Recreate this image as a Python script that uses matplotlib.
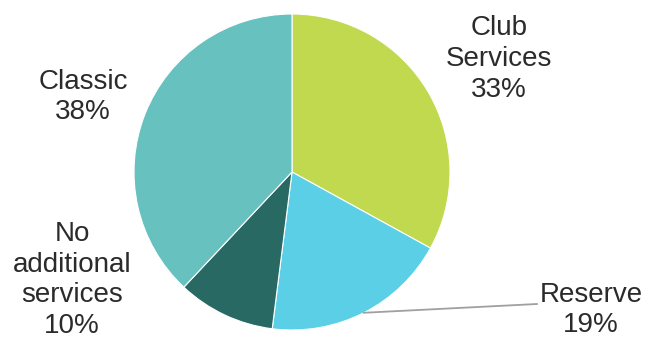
import numpy as np
import matplotlib.pyplot as plt

plt.rcParams['font.family'] = ['Liberation Sans', 'DejaVu Sans']

labels = ['Club\nServices', 'Reserve', 'No\nadditional\nservices', 'Classic']
shares = [33, 19, 10, 38]
colors = ['#c1d94f', '#5bcfe6', '#296964', '#66c1bf']

W, H = 649, 340
fig = plt.figure(figsize=(W / 100, H / 100), dpi=100)
# pie centre ~ (292, 172) px, radius ~158 px
cx, cy, r = 292, 172, 158
ax = fig.add_axes([(cx - r) / W, 1 - (cy + r) / H, 2 * r / W, 2 * r / H])
wedges, _ = ax.pie(shares, colors=colors, startangle=90, counterclock=False,
                   radius=1, wedgeprops=dict(edgecolor='white', linewidth=0.8))
ax.set_xlim(-1, 1)
ax.set_ylim(-1, 1)
ax.set_aspect('equal')
ax.axis('off')

# label centres in pixel coords
label_pos = [(499, 59), (591, 310), (72, 280), (83, 97)]
for lab, s, (px, py) in zip(labels, shares, label_pos):
    fig.text(px / W, 1 - py / H, f'{lab}\n{s}%', ha='center', va='center',
             fontsize=20, color='#2b2b2b', linespacing=1.24)

# leader line for Reserve
w = wedges[1]
mid = np.deg2rad((w.theta1 + w.theta2) / 2)
x0, y0 = np.cos(mid), np.sin(mid)
ax.plot([x0, (537 - cx) / r], [y0, (cy - 304) / r], color='#a0a0a0',
        lw=1.3, clip_on=False)

fig.savefig('out.png', dpi=100)
